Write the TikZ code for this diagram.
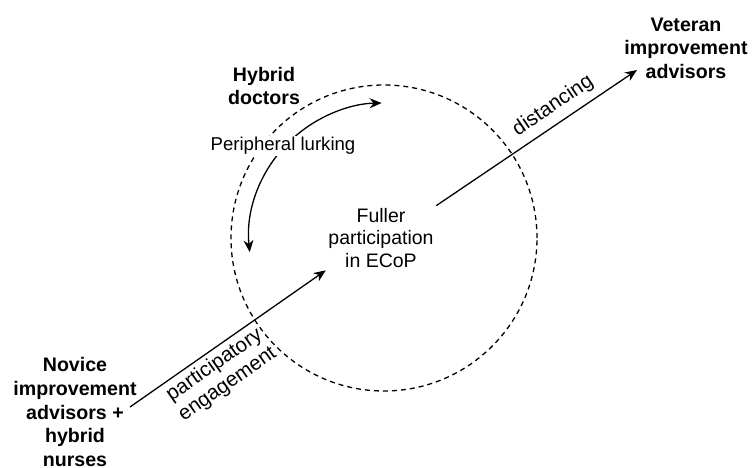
\documentclass[tikz,border=0pt]{standalone}
\usepackage{fontspec}
\setmainfont{Liberation Sans}
\usetikzlibrary{arrows.meta}
\begin{document}
\begin{tikzpicture}[x=1pt,y=1pt,
  lbl/.style={font=\fontsize{19.5}{22.5}\selectfont, align=center, inner sep=2pt},
  pathlbl/.style={font=\fontsize{20.5}{23}\selectfont, align=center, sloped},
  actor/.style={font=\fontsize{19.6}{23.6}\selectfont\bfseries, align=center, inner sep=2pt},
  flow/.style={line width=1.3pt, -{Stealth[length=12pt,width=10pt]}},
  twoway/.style={line width=1.3pt, {Stealth[length=12pt,width=10pt]}-{Stealth[length=12pt,width=10pt]}},
  ring/.style={circle, draw, line width=1.3pt, dash pattern=on 5pt off 4pt, inner sep=0pt, minimum size=306pt}]
\useasboundingbox (0,0) rectangle (756,467);

% community of practice boundary
\node[ring] (ecop) at (384,229) {};

% groups and core
\node[lbl, inner sep=2.5pt] (fuller) at (381,229) {Fuller\\participation\\in ECoP};
\node[actor] (hybrid) at (264,381) {Hybrid\\doctors};
\node[actor] (veteran) at (686,419) {Veteran\\improvement\\advisors};
\node[actor] (novice) at (75,55) {Novice\\improvement\\advisors +\\hybrid\\nurses};

\coordinate (novstart) at (130,60);
\coordinate (vettip) at (637,397);

% trajectories
\draw[flow] (novstart) -- node[pathlbl, below, pos=0.39, inner sep=4pt] {participatory\\engagement} (fuller.south west);
\draw[flow] (fuller.north east) -- node[pathlbl, above, pos=0.63, inner sep=7pt] {distancing} (vettip);

% peripheral movement along the edge
\draw[twoway] ([shift={(186:135)}]ecop.center) arc[start angle=186, end angle=91, radius=135];
\node[lbl, font=\fontsize{18.6}{22}\selectfont, fill=white, inner sep=1pt] (lurk) at (283,321) {Peripheral lurking};
\end{tikzpicture}
\end{document}
